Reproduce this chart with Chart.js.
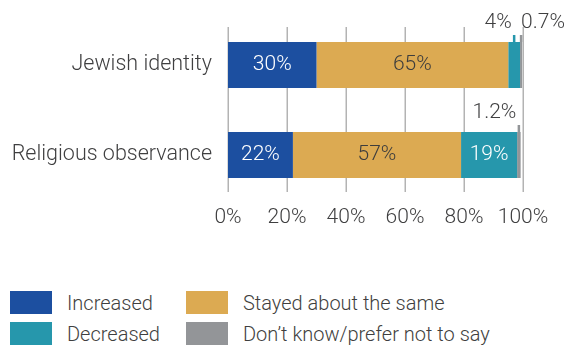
<!DOCTYPE html>
<html>
<head>
<meta charset="utf-8">
<script src="https://cdn.jsdelivr.net/npm/chart.js@4/dist/chart.umd.min.js"></script>
<style>
    html, body {
        margin: 0;
        padding: 0;
        background: #ffffff;
    }

    #wrap {
        position: relative;
        width: 573px;
        height: 345px;
        overflow: hidden;
    }

    #chart {
        position: absolute;
        left: 0;
        top: 0;
    }

    #legend {
        position: absolute;
        left: 10px;
        top: 291px;
        display: grid;
        grid-template-columns: 176px auto;
        row-gap: 8px;
        font-family: Roboto, "Liberation Sans", sans-serif;
        font-weight: 300;
        font-size: 20px;
        color: #3f3f40;
    }

    .item {
        display: flex;
        align-items: center;
        height: 23px;
        white-space: nowrap;
    }

    .swatch {
        width: 42px;
        height: 23px;
        margin-right: 15px;
        flex: none;
    }
</style>
</head>
<body>
<div id="wrap">
    <canvas id="chart" width="573" height="240"></canvas>
    <div id="legend"></div>
</div>

<script>
// ------------------------
// Data
// ------------------------

const categories = ["Jewish identity", "Religious observance"];

const seriesNames = [
    "Increased",
    "Stayed about the same",
    "Decreased",
    "Don’t know/prefer not to say"
];

const increased = [30, 22];
const stayedSame = [65, 57];
const decreased = [4, 19];
const dontKnow = [0.7, 1.2];

const xTicks = [0, 20, 40, 60, 80, 100];

// ------------------------
// Styling
// ------------------------

const colors = ["#1c4fa0", "#dcaa52", "#2697ac", "#939598"];
const labelColors = ["#ffffff", "#3d3d3d", "#ffffff", "#3d3d3d"];
const textColor = "#3f3f40";
const fontFamily = "Roboto, 'Liberation Sans', sans-serif";

// which side of the leader line each small segment's label sits on
const calloutAlign = {
    2: ["right", null],
    3: ["left", "right"]
};

// ------------------------
// Plugins
// ------------------------

// vertical grid lines, a little taller than the bars
const gridLines = {
    id: "gridLines",
    beforeDatasetsDraw(chart) {
        const ctx = chart.ctx;
        const xScale = chart.scales.x;
        const first = chart.getDatasetMeta(0).data[0];
        const last = chart.getDatasetMeta(0).data[categories.length - 1];
        const top = first.y - first.height / 2 - 15;
        const bottom = last.y + last.height / 2 + 14;

        ctx.save();
        ctx.strokeStyle = "#b3b3b3";
        ctx.lineWidth = 1.5;
        xTicks.forEach(t => {
            const x = Math.round(xScale.getPixelForValue(t)) + 0.25;
            ctx.beginPath();
            ctx.moveTo(x, top);
            ctx.lineTo(x, bottom);
            ctx.stroke();
        });
        ctx.restore();
    }
};

// value labels inside wide segments, callouts for the thin ones
const valueLabels = {
    id: "valueLabels",
    afterDatasetsDraw(chart) {
        const ctx = chart.ctx;
        ctx.save();
        ctx.font = `300 21px ${fontFamily}`;
        ctx.textBaseline = "middle";

        chart.data.datasets.forEach((ds, i) => {
            const meta = chart.getDatasetMeta(i);
            meta.data.forEach((bar, j) => {
                const value = ds.data[j];
                const text = `${value}%`;
                const left = Math.min(bar.x, bar.base);
                const width = Math.abs(bar.x - bar.base);

                if (width > 30) {
                    ctx.fillStyle = labelColors[i];
                    ctx.textAlign = "center";
                    ctx.fillText(text, left + width / 2, bar.y);
                    return;
                }

                const cx = left + width / 2;
                const barTop = bar.y - bar.height / 2;
                const leaderTop = barTop - 7;

                ctx.strokeStyle = colors[i];
                ctx.lineWidth = 2.5;
                ctx.beginPath();
                ctx.moveTo(cx, barTop);
                ctx.lineTo(cx, leaderTop);
                ctx.stroke();

                const align = (calloutAlign[i] && calloutAlign[i][j]) || "center";
                ctx.fillStyle = textColor;
                ctx.textAlign = align;
                const tx = align === "right" ? cx - 2.5 : cx;
                ctx.fillText(text, tx, leaderTop - 12);
            });
        });

        ctx.restore();
    }
};

// ------------------------
// Chart
// ------------------------

const seriesValues = [increased, stayedSame, decreased, dontKnow];

new Chart(document.getElementById("chart"), {

    type: "bar",

    data: {
        labels: categories,
        datasets: seriesValues.map((vals, i) => ({
            label: seriesNames[i],
            data: vals,
            backgroundColor: colors[i],
            borderWidth: 0,
            categoryPercentage: 1,
            barPercentage: 0.511
        }))
    },

    options: {
        indexAxis: "y",
        responsive: false,
        animation: false,
        devicePixelRatio: 1,
        layout: {
            padding: { left: 0, right: 50, top: 20, bottom: 4 }
        },
        plugins: {
            legend: { display: false },
            tooltip: { enabled: false }
        },
        scales: {
            x: {
                stacked: true,
                min: 0,
                max: 100,
                afterBuildTicks: scale => {
                    scale.ticks = xTicks.map(v => ({ value: v }));
                },
                afterFit: scale => {
                    scale.height = 36;
                },
                ticks: {
                    callback: v => `${v}%`,
                    color: textColor,
                    padding: 5,
                    maxRotation: 0,
                    font: { family: fontFamily, size: 21, weight: "300" }
                },
                grid: { display: false, drawTicks: false },
                border: { display: false }
            },
            y: {
                stacked: true,
                afterFit: scale => {
                    scale.width = 228;
                    scale.paddingTop = 0;
                    scale.paddingBottom = 0;
                },
                ticks: {
                    color: textColor,
                    padding: 16,
                    font: { family: fontFamily, size: 21.5, weight: "300" }
                },
                grid: { display: false, drawTicks: false },
                border: { display: false }
            }
        }
    },

    plugins: [gridLines, valueLabels]

});

// ------------------------
// Legend
// ------------------------

const legend = document.getElementById("legend");

seriesNames.forEach((name, i) => {
    const item = document.createElement("div");
    item.className = "item";

    const swatch = document.createElement("span");
    swatch.className = "swatch";
    swatch.style.background = colors[i];

    const label = document.createElement("span");
    label.textContent = name;

    item.appendChild(swatch);
    item.appendChild(label);
    legend.appendChild(item);
});
</script>
</body>
</html>
